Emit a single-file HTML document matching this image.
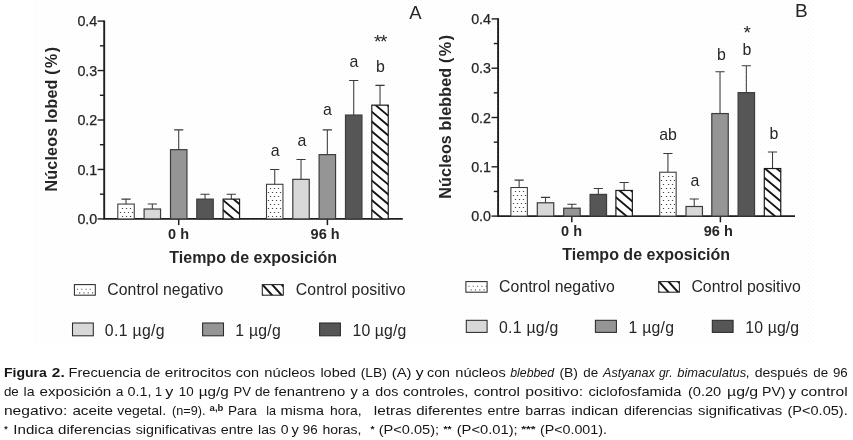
<!DOCTYPE html>
<html><head><meta charset="utf-8"><title>Figura 2</title>
<style>
html,body{margin:0;padding:0;background:#fff;}
body{width:853px;height:440px;position:relative;overflow:hidden;font-family:"Liberation Sans",sans-serif;}
svg{position:absolute;left:0;top:0;will-change:transform;}
svg text{font-family:"Liberation Sans",sans-serif;}
</style></head><body>
<svg width="853" height="440" viewBox="0 0 853 440">
<defs>
<pattern id="bgd" width="4" height="4" patternUnits="userSpaceOnUse"><rect x="0" y="0" width="1" height="1" fill="#f5f5f8"/><rect x="2" y="2" width="1" height="1" fill="#f5f5f8"/></pattern>
<pattern id="dots" width="4.1" height="8" patternUnits="userSpaceOnUse" x="0.4" y="0.6">
<rect x="1.5" y="1.4" width="1" height="1" fill="#555"/><rect x="3.55" y="5.4" width="1" height="1" fill="#555"/><rect x="-0.55" y="5.4" width="1" height="1" fill="#555"/>
</pattern>
<pattern id="dotsl" width="2.7" height="3.1" patternUnits="userSpaceOnUse" x="0.7" y="0.3">
<rect x="0.6" y="0.6" width="0.8" height="0.8" fill="#888"/>
</pattern>
<pattern id="hatch" width="12.75" height="10.2" patternUnits="userSpaceOnUse" x="0" y="3">
<path d="M-12.75 -10.2 L25.5 20.4 M0 -10.2 L25.5 10.2 M-12.75 0 L12.75 20.4" stroke="#222" stroke-width="1.4"/>
</pattern>
<pattern id="hatchl" width="7.4" height="10.4" patternUnits="userSpaceOnUse" x="0" y="0">
<path d="M-7.4 -7.4 L14.8 14.8 M0 -7.4 L14.8 7.4 M-7.4 0 L7.4 14.8" stroke="#222" stroke-width="1.3"/>
</pattern>
</defs>
<rect x="33" y="0" width="780" height="344" fill="url(#bgd)"/>
<path d="M104.2 20.399999999999995 V218.9 H402.8" fill="none" stroke="#1e1e1e" stroke-width="1.9"/>
<path d="M97.60000000000001 218.9 H104.2" stroke="#1e1e1e" stroke-width="1.4"/>
<text x="97.3" y="224.0" font-size="14.3" text-anchor="end" fill="#262626" stroke="#262626" stroke-width="0.25">0.0</text>
<path d="M99.9 194.18 H104.2" stroke="#1e1e1e" stroke-width="1.4"/>
<path d="M97.60000000000001 169.45 H104.2" stroke="#1e1e1e" stroke-width="1.4"/>
<text x="97.3" y="174.55" font-size="14.3" text-anchor="end" fill="#262626" stroke="#262626" stroke-width="0.25">0.1</text>
<path d="M99.9 144.72 H104.2" stroke="#1e1e1e" stroke-width="1.4"/>
<path d="M97.60000000000001 120.0 H104.2" stroke="#1e1e1e" stroke-width="1.4"/>
<text x="97.3" y="125.1" font-size="14.3" text-anchor="end" fill="#262626" stroke="#262626" stroke-width="0.25">0.2</text>
<path d="M99.9 95.28 H104.2" stroke="#1e1e1e" stroke-width="1.4"/>
<path d="M97.60000000000001 70.55 H104.2" stroke="#1e1e1e" stroke-width="1.4"/>
<text x="97.3" y="75.65" font-size="14.3" text-anchor="end" fill="#262626" stroke="#262626" stroke-width="0.25">0.3</text>
<path d="M99.9 45.82 H104.2" stroke="#1e1e1e" stroke-width="1.4"/>
<path d="M97.60000000000001 21.1 H104.2" stroke="#1e1e1e" stroke-width="1.4"/>
<text x="97.3" y="26.2" font-size="14.3" text-anchor="end" fill="#262626" stroke="#262626" stroke-width="0.25">0.4</text>
<path d="M178.7 218.9 V225.1" stroke="#1e1e1e" stroke-width="1.5"/>
<path d="M327.4 218.9 V225.1" stroke="#1e1e1e" stroke-width="1.5"/>
<path d="M126.02 204.06 V199.12 M121.42 199.12 H130.62" stroke="#3a3a3a" stroke-width="1.05" fill="none"/>
<rect x="117.8" y="204.06" width="16.45" height="14.84" fill="#fff"/>
<rect x="117.8" y="204.06" width="16.45" height="14.84" fill="#fff" stroke="#383838" stroke-width="1.05"/>
<path d="M121.9 207.9h1.2v1.2h-1.2zM125.9 207.9h1.2v1.2h-1.2zM129.9 207.9h1.2v1.2h-1.2zM119.9 211.9h1.2v1.2h-1.2zM123.9 211.9h1.2v1.2h-1.2zM127.9 211.9h1.2v1.2h-1.2zM131.9 211.9h1.2v1.2h-1.2zM121.9 215.9h1.2v1.2h-1.2zM125.9 215.9h1.2v1.2h-1.2zM129.9 215.9h1.2v1.2h-1.2z" fill="#444"/>
<path d="M152.32 209.01 V204.06 M147.72 204.06 H156.92" stroke="#3a3a3a" stroke-width="1.05" fill="none"/>
<rect x="144.1" y="209.01" width="16.45" height="9.89" fill="#d8d8d8" stroke="#3c3c3c" stroke-width="1.2"/>
<path d="M178.72 149.67 V129.89 M174.12 129.89 H183.32" stroke="#3a3a3a" stroke-width="1.05" fill="none"/>
<rect x="170.5" y="149.67" width="16.45" height="69.23" fill="#959595" stroke="#3c3c3c" stroke-width="1.2"/>
<path d="M205.03 199.12 V194.18 M200.43 194.18 H209.63" stroke="#3a3a3a" stroke-width="1.05" fill="none"/>
<rect x="196.8" y="199.12" width="16.45" height="19.78" fill="#565656" stroke="#3c3c3c" stroke-width="1.2"/>
<path d="M231.32 199.12 V194.18 M226.72 194.18 H235.92" stroke="#3a3a3a" stroke-width="1.05" fill="none"/>
<rect x="223.1" y="199.12" width="16.45" height="19.78" fill="#fff"/>
<clipPath id="c1"><rect x="223.1" y="199.12" width="16.45" height="19.78"/></clipPath>
<path d="M222.1 209.16 L240.54999999999998 224.66 M222.1 199.34 L240.54999999999998 214.84 M222.1 189.52 L240.54999999999998 205.02 M222.1 218.98 L240.54999999999998 234.48 " stroke="#161616" stroke-width="1.9" clip-path="url(#c1)" fill="none"/>
<rect x="223.1" y="199.12" width="16.45" height="19.78" fill="none" stroke="#1c1c1c" stroke-width="1.2"/>
<path d="M274.73 184.28 V169.45 M270.13 169.45 H279.33000000000004" stroke="#3a3a3a" stroke-width="1.05" fill="none"/>
<rect x="266.5" y="184.28" width="16.45" height="34.62" fill="#fff"/>
<rect x="266.5" y="184.28" width="16.45" height="34.62" fill="#fff" stroke="#383838" stroke-width="1.05"/>
<path d="M269.9 187.9h1.2v1.2h-1.2zM273.9 187.9h1.2v1.2h-1.2zM277.9 187.9h1.2v1.2h-1.2zM267.9 191.9h1.2v1.2h-1.2zM271.9 191.9h1.2v1.2h-1.2zM275.9 191.9h1.2v1.2h-1.2zM279.9 191.9h1.2v1.2h-1.2zM269.9 195.9h1.2v1.2h-1.2zM273.9 195.9h1.2v1.2h-1.2zM277.9 195.9h1.2v1.2h-1.2zM267.9 199.9h1.2v1.2h-1.2zM271.9 199.9h1.2v1.2h-1.2zM275.9 199.9h1.2v1.2h-1.2zM279.9 199.9h1.2v1.2h-1.2zM269.9 203.9h1.2v1.2h-1.2zM273.9 203.9h1.2v1.2h-1.2zM277.9 203.9h1.2v1.2h-1.2zM267.9 207.9h1.2v1.2h-1.2zM271.9 207.9h1.2v1.2h-1.2zM275.9 207.9h1.2v1.2h-1.2zM279.9 207.9h1.2v1.2h-1.2zM269.9 211.9h1.2v1.2h-1.2zM273.9 211.9h1.2v1.2h-1.2zM277.9 211.9h1.2v1.2h-1.2zM267.9 215.9h1.2v1.2h-1.2zM271.9 215.9h1.2v1.2h-1.2zM275.9 215.9h1.2v1.2h-1.2zM279.9 215.9h1.2v1.2h-1.2z" fill="#444"/>
<path d="M301.03 179.34 V159.56 M296.42999999999995 159.56 H305.63" stroke="#3a3a3a" stroke-width="1.05" fill="none"/>
<rect x="292.8" y="179.34" width="16.45" height="39.56" fill="#d8d8d8" stroke="#3c3c3c" stroke-width="1.2"/>
<path d="M327.33 154.62 V129.89 M322.72999999999996 129.89 H331.93" stroke="#3a3a3a" stroke-width="1.05" fill="none"/>
<rect x="319.1" y="154.62" width="16.45" height="64.28" fill="#959595" stroke="#3c3c3c" stroke-width="1.2"/>
<path d="M353.73 115.05 V80.44 M349.13 80.44 H358.33000000000004" stroke="#3a3a3a" stroke-width="1.05" fill="none"/>
<rect x="345.5" y="115.05" width="16.45" height="103.85" fill="#565656" stroke="#3c3c3c" stroke-width="1.2"/>
<path d="M380.03 105.16 V85.38 M375.42999999999995 85.38 H384.63" stroke="#3a3a3a" stroke-width="1.05" fill="none"/>
<rect x="371.8" y="105.16" width="16.45" height="113.74" fill="#fff"/>
<clipPath id="c2"><rect x="371.8" y="105.16" width="16.45" height="113.74"/></clipPath>
<path d="M370.8 209.16 L389.25 224.66 M370.8 199.34 L389.25 214.84 M370.8 189.52 L389.25 205.02 M370.8 179.70 L389.25 195.20 M370.8 169.88 L389.25 185.38 M370.8 160.06 L389.25 175.56 M370.8 150.24 L389.25 165.74 M370.8 140.42 L389.25 155.92 M370.8 130.60 L389.25 146.10 M370.8 120.78 L389.25 136.28 M370.8 110.96 L389.25 126.46 M370.8 101.14 L389.25 116.64 M370.8 91.32 L389.25 106.82 M370.8 218.98 L389.25 234.48 " stroke="#161616" stroke-width="1.9" clip-path="url(#c2)" fill="none"/>
<rect x="371.8" y="105.16" width="16.45" height="113.74" fill="none" stroke="#1c1c1c" stroke-width="1.2"/>
<rect x="74.4" y="284.6" width="20.9" height="10.6" fill="#fff"/>
<path d="M76.90 288.70h1.1v1.1h-1.1zM81.20 288.70h1.1v1.1h-1.1zM79.10 292.30h1.1v1.1h-1.1zM85.50 288.70h1.1v1.1h-1.1zM83.40 292.30h1.1v1.1h-1.1zM89.80 288.70h1.1v1.1h-1.1zM87.70 292.30h1.1v1.1h-1.1zM92.00 292.30h1.1v1.1h-1.1z" fill="#555"/>
<rect x="74.4" y="284.6" width="20.9" height="10.6" fill="none" stroke="#2a2a2a" stroke-width="1.05"/>
<rect x="262.3" y="284.6" width="21" height="10.6" fill="#fff"/>
<clipPath id="c3"><rect x="262.3" y="284.6" width="21" height="10.6"/></clipPath>
<path d="M252.00 283.60 L263.34 296.20 M261.60 283.60 L272.94 296.20 M271.20 283.60 L282.54 296.20 M280.80 283.60 L292.14 296.20 M290.40 283.60 L301.74 296.20 " stroke="#161616" stroke-width="2.0" clip-path="url(#c3)" fill="none"/>
<rect x="262.3" y="284.6" width="21" height="10.6" fill="none" stroke="#2a2a2a" stroke-width="1.1"/>
<rect x="72.5" y="323" width="20.8" height="12.8" fill="#d8d8d8" stroke="#2a2a2a" stroke-width="1.05"/>
<rect x="202.6" y="323" width="20.9" height="12.8" fill="#959595" stroke="#2a2a2a" stroke-width="1.05"/>
<rect x="319.6" y="323" width="20.8" height="12.8" fill="#565656" stroke="#2a2a2a" stroke-width="1.05"/>
<text x="275.1" y="155.9" font-size="15.9" text-anchor="middle" fill="#262626" >a</text>
<text x="301.8" y="145.8" font-size="15.9" text-anchor="middle" fill="#262626" >a</text>
<text x="327.5" y="115.3" font-size="15.9" text-anchor="middle" fill="#262626" >a</text>
<text x="353.8" y="66.5" font-size="15.9" text-anchor="middle" fill="#262626" >a</text>
<text x="380.4" y="72.4" font-size="15.9" text-anchor="middle" fill="#262626" >b</text>
<text x="373.9" y="48.1" font-size="19" textLength="13.6" lengthAdjust="spacing" fill="#262626" >**</text>
<text x="178.6" y="238.9" font-size="14.5" font-weight="bold" text-anchor="middle" fill="#262626" >0 h</text>
<text x="325.1" y="238.9" font-size="14.5" font-weight="bold" text-anchor="middle" fill="#262626" >96 h</text>
<text x="253.2" y="262.5" font-size="16" font-weight="bold" text-anchor="middle" fill="#262626" >Tiempo de exposición</text>
<text x="409.3" y="19.2" font-size="18.5" fill="#262626" >A</text>
<text transform="translate(56.6 191.4) rotate(-90)" font-size="16" font-weight="bold" letter-spacing="0.2" fill="#262626">Núcleos lobed <tspan letter-spacing="1.5">(%)</tspan></text>
<text x="107.2" y="295.3" font-size="15.8" textLength="116" lengthAdjust="spacing" fill="#262626" >Control negativo</text>
<text x="295.8" y="295.3" font-size="15.8" textLength="109.8" lengthAdjust="spacing" fill="#262626" >Control positivo</text>
<text x="104.8" y="335.9" font-size="15.8" textLength="59.8" lengthAdjust="spacing" fill="#262626" >0.1 µg/g</text>
<text x="235.2" y="335.9" font-size="15.8" textLength="45.6" lengthAdjust="spacing" fill="#262626" >1 µg/g</text>
<text x="352.6" y="335.9" font-size="15.8" textLength="53.6" lengthAdjust="spacing" fill="#262626" >10 µg/g</text>
<path d="M498.1 18.200000000000006 V216.1 H795" fill="none" stroke="#1e1e1e" stroke-width="1.9"/>
<path d="M491.5 216.1 H498.1" stroke="#1e1e1e" stroke-width="1.4"/>
<text x="491" y="221.2" font-size="14.3" text-anchor="end" fill="#262626" stroke="#262626" stroke-width="0.25">0.0</text>
<path d="M493.8 191.45 H498.1" stroke="#1e1e1e" stroke-width="1.4"/>
<path d="M491.5 166.8 H498.1" stroke="#1e1e1e" stroke-width="1.4"/>
<text x="491" y="171.9" font-size="14.3" text-anchor="end" fill="#262626" stroke="#262626" stroke-width="0.25">0.1</text>
<path d="M493.8 142.15 H498.1" stroke="#1e1e1e" stroke-width="1.4"/>
<path d="M491.5 117.5 H498.1" stroke="#1e1e1e" stroke-width="1.4"/>
<text x="491" y="122.6" font-size="14.3" text-anchor="end" fill="#262626" stroke="#262626" stroke-width="0.25">0.2</text>
<path d="M493.8 92.85 H498.1" stroke="#1e1e1e" stroke-width="1.4"/>
<path d="M491.5 68.2 H498.1" stroke="#1e1e1e" stroke-width="1.4"/>
<text x="491" y="73.3" font-size="14.3" text-anchor="end" fill="#262626" stroke="#262626" stroke-width="0.25">0.3</text>
<path d="M493.8 43.55 H498.1" stroke="#1e1e1e" stroke-width="1.4"/>
<path d="M491.5 18.9 H498.1" stroke="#1e1e1e" stroke-width="1.4"/>
<text x="491" y="24.0" font-size="14.3" text-anchor="end" fill="#262626" stroke="#262626" stroke-width="0.25">0.4</text>
<path d="M571.8 216.1 V222.29999999999998" stroke="#1e1e1e" stroke-width="1.5"/>
<path d="M720.4 216.1 V222.29999999999998" stroke="#1e1e1e" stroke-width="1.5"/>
<path d="M519.12 187.51 V180.11 M514.52 180.11 H523.72" stroke="#3a3a3a" stroke-width="1.05" fill="none"/>
<rect x="510.9" y="187.51" width="16.45" height="28.59" fill="#fff"/>
<rect x="510.9" y="187.51" width="16.45" height="28.59" fill="#fff" stroke="#383838" stroke-width="1.05"/>
<path d="M514.9 190.9h1.2v1.2h-1.2zM518.9 190.9h1.2v1.2h-1.2zM522.9 190.9h1.2v1.2h-1.2zM512.9 194.9h1.2v1.2h-1.2zM516.9 194.9h1.2v1.2h-1.2zM520.9 194.9h1.2v1.2h-1.2zM524.9 194.9h1.2v1.2h-1.2zM514.9 198.9h1.2v1.2h-1.2zM518.9 198.9h1.2v1.2h-1.2zM522.9 198.9h1.2v1.2h-1.2zM512.9 202.9h1.2v1.2h-1.2zM516.9 202.9h1.2v1.2h-1.2zM520.9 202.9h1.2v1.2h-1.2zM524.9 202.9h1.2v1.2h-1.2zM514.9 206.9h1.2v1.2h-1.2zM518.9 206.9h1.2v1.2h-1.2zM522.9 206.9h1.2v1.2h-1.2zM512.9 210.9h1.2v1.2h-1.2zM516.9 210.9h1.2v1.2h-1.2zM520.9 210.9h1.2v1.2h-1.2zM524.9 210.9h1.2v1.2h-1.2z" fill="#444"/>
<path d="M545.52 202.79 V197.37 M540.92 197.37 H550.12" stroke="#3a3a3a" stroke-width="1.05" fill="none"/>
<rect x="537.3" y="202.79" width="16.45" height="13.31" fill="#d8d8d8" stroke="#3c3c3c" stroke-width="1.2"/>
<path d="M571.93 208.21 V204.27 M567.3299999999999 204.27 H576.53" stroke="#3a3a3a" stroke-width="1.05" fill="none"/>
<rect x="563.7" y="208.21" width="16.45" height="7.89" fill="#959595" stroke="#3c3c3c" stroke-width="1.2"/>
<path d="M598.33 194.41 V188.49 M593.73 188.49 H602.9300000000001" stroke="#3a3a3a" stroke-width="1.05" fill="none"/>
<rect x="590.1" y="194.41" width="16.45" height="21.69" fill="#565656" stroke="#3c3c3c" stroke-width="1.2"/>
<path d="M624.12 190.46 V182.58 M619.52 182.58 H628.72" stroke="#3a3a3a" stroke-width="1.05" fill="none"/>
<rect x="615.9" y="190.46" width="16.45" height="25.64" fill="#fff"/>
<clipPath id="c4"><rect x="615.9" y="190.46" width="16.45" height="25.64"/></clipPath>
<path d="M614.9 206.36 L633.35 221.86 M614.9 196.54 L633.35 212.04 M614.9 186.72 L633.35 202.22 M614.9 176.90 L633.35 192.40 M614.9 216.18 L633.35 231.68 " stroke="#161616" stroke-width="1.9" clip-path="url(#c4)" fill="none"/>
<rect x="615.9" y="190.46" width="16.45" height="25.64" fill="none" stroke="#1c1c1c" stroke-width="1.2"/>
<path d="M667.93 172.22 V153.49 M663.3299999999999 153.49 H672.53" stroke="#3a3a3a" stroke-width="1.05" fill="none"/>
<rect x="659.7" y="172.22" width="16.45" height="43.88" fill="#fff"/>
<rect x="659.7" y="172.22" width="16.45" height="43.88" fill="#fff" stroke="#383838" stroke-width="1.05"/>
<path d="M662.9 175.9h1.2v1.2h-1.2zM667.9 175.9h1.2v1.2h-1.2zM671.9 175.9h1.2v1.2h-1.2zM660.9 179.9h1.2v1.2h-1.2zM665.9 179.9h1.2v1.2h-1.2zM669.9 179.9h1.2v1.2h-1.2zM673.9 179.9h1.2v1.2h-1.2zM662.9 183.9h1.2v1.2h-1.2zM667.9 183.9h1.2v1.2h-1.2zM671.9 183.9h1.2v1.2h-1.2zM660.9 187.9h1.2v1.2h-1.2zM665.9 187.9h1.2v1.2h-1.2zM669.9 187.9h1.2v1.2h-1.2zM673.9 187.9h1.2v1.2h-1.2zM662.9 191.9h1.2v1.2h-1.2zM667.9 191.9h1.2v1.2h-1.2zM671.9 191.9h1.2v1.2h-1.2zM660.9 195.9h1.2v1.2h-1.2zM665.9 195.9h1.2v1.2h-1.2zM669.9 195.9h1.2v1.2h-1.2zM673.9 195.9h1.2v1.2h-1.2zM662.9 199.9h1.2v1.2h-1.2zM667.9 199.9h1.2v1.2h-1.2zM671.9 199.9h1.2v1.2h-1.2zM660.9 203.9h1.2v1.2h-1.2zM665.9 203.9h1.2v1.2h-1.2zM669.9 203.9h1.2v1.2h-1.2zM673.9 203.9h1.2v1.2h-1.2zM662.9 207.9h1.2v1.2h-1.2zM667.9 207.9h1.2v1.2h-1.2zM671.9 207.9h1.2v1.2h-1.2zM660.9 211.9h1.2v1.2h-1.2zM665.9 211.9h1.2v1.2h-1.2zM669.9 211.9h1.2v1.2h-1.2zM673.9 211.9h1.2v1.2h-1.2z" fill="#444"/>
<path d="M694.23 206.49 V199.09 M689.63 199.09 H698.83" stroke="#3a3a3a" stroke-width="1.05" fill="none"/>
<rect x="686.0" y="206.49" width="16.45" height="9.61" fill="#d8d8d8" stroke="#3c3c3c" stroke-width="1.2"/>
<path d="M720.02 113.56 V71.65 M715.42 71.65 H724.62" stroke="#3a3a3a" stroke-width="1.05" fill="none"/>
<rect x="711.8" y="113.56" width="16.45" height="102.54" fill="#959595" stroke="#3c3c3c" stroke-width="1.2"/>
<path d="M746.33 92.65 V65.78 M741.73 65.78 H750.9300000000001" stroke="#3a3a3a" stroke-width="1.05" fill="none"/>
<rect x="738.1" y="92.65" width="16.45" height="123.45" fill="#565656" stroke="#3c3c3c" stroke-width="1.2"/>
<path d="M772.52 168.53 V152.01 M767.92 152.01 H777.12" stroke="#3a3a3a" stroke-width="1.05" fill="none"/>
<rect x="764.3" y="168.53" width="16.45" height="47.57" fill="#fff"/>
<clipPath id="c5"><rect x="764.3" y="168.53" width="16.45" height="47.57"/></clipPath>
<path d="M763.3 206.36 L781.75 221.86 M763.3 196.54 L781.75 212.04 M763.3 186.72 L781.75 202.22 M763.3 176.90 L781.75 192.40 M763.3 167.08 L781.75 182.58 M763.3 157.26 L781.75 172.76 M763.3 216.18 L781.75 231.68 " stroke="#161616" stroke-width="1.9" clip-path="url(#c5)" fill="none"/>
<rect x="764.3" y="168.53" width="16.45" height="47.57" fill="none" stroke="#1c1c1c" stroke-width="1.2"/>
<rect x="465.9" y="281.6" width="21.2" height="10.6" fill="#fff"/>
<path d="M468.40 285.70h1.1v1.1h-1.1zM472.70 285.70h1.1v1.1h-1.1zM470.60 289.30h1.1v1.1h-1.1zM477.00 285.70h1.1v1.1h-1.1zM474.90 289.30h1.1v1.1h-1.1zM481.30 285.70h1.1v1.1h-1.1zM479.20 289.30h1.1v1.1h-1.1zM485.60 285.70h1.1v1.1h-1.1zM483.50 289.30h1.1v1.1h-1.1z" fill="#555"/>
<rect x="465.9" y="281.6" width="21.2" height="10.6" fill="none" stroke="#2a2a2a" stroke-width="1.05"/>
<rect x="658.7" y="281.6" width="20.7" height="10.6" fill="#fff"/>
<clipPath id="c6"><rect x="658.7" y="281.6" width="20.7" height="10.6"/></clipPath>
<path d="M648.40 280.60 L659.74 293.20 M658.00 280.60 L669.34 293.20 M667.60 280.60 L678.94 293.20 M677.20 280.60 L688.54 293.20 M686.80 280.60 L698.14 293.20 " stroke="#161616" stroke-width="2.0" clip-path="url(#c6)" fill="none"/>
<rect x="658.7" y="281.6" width="20.7" height="10.6" fill="none" stroke="#2a2a2a" stroke-width="1.1"/>
<rect x="466.3" y="320.3" width="20.8" height="12.1" fill="#d8d8d8" stroke="#2a2a2a" stroke-width="1.05"/>
<rect x="595.4" y="320.3" width="21" height="12.1" fill="#959595" stroke="#2a2a2a" stroke-width="1.05"/>
<rect x="712.3" y="320.3" width="20.8" height="12.1" fill="#565656" stroke="#2a2a2a" stroke-width="1.05"/>
<text x="668.1" y="140.4" font-size="15.9" text-anchor="middle" fill="#262626" >ab</text>
<text x="695" y="185.7" font-size="15.9" text-anchor="middle" fill="#262626" >a</text>
<text x="721.4" y="59.6" font-size="15.9" text-anchor="middle" fill="#262626" >b</text>
<text x="747" y="54.5" font-size="15.9" text-anchor="middle" fill="#262626" >b</text>
<text x="773.9" y="138.5" font-size="15.9" text-anchor="middle" fill="#262626" >b</text>
<text x="743.6" y="38.9" font-size="19" fill="#262626" >*</text>
<text x="571.6" y="236.0" font-size="14.5" font-weight="bold" text-anchor="middle" fill="#262626" >0 h</text>
<text x="718.3" y="236.0" font-size="14.5" font-weight="bold" text-anchor="middle" fill="#262626" >96 h</text>
<text x="646.2" y="259.6" font-size="16" font-weight="bold" text-anchor="middle" fill="#262626" >Tiempo de exposición</text>
<text x="795" y="17" font-size="19" fill="#262626" >B</text>
<text transform="translate(450.9 198.7) rotate(-90)" font-size="16.1" font-weight="bold" letter-spacing="0.15" fill="#262626">Núcleos blebbed <tspan letter-spacing="1.5">(%)</tspan></text>
<text x="499.1" y="292.1" font-size="15.8" textLength="115.6" lengthAdjust="spacing" fill="#262626" >Control negativo</text>
<text x="691.4" y="292.1" font-size="15.8" textLength="109.4" lengthAdjust="spacing" fill="#262626" >Control positivo</text>
<text x="499" y="332.6" font-size="15.8" textLength="59.4" lengthAdjust="spacing" fill="#262626" >0.1 µg/g</text>
<text x="628.6" y="332.6" font-size="15.8" textLength="45.4" lengthAdjust="spacing" fill="#262626" >1 µg/g</text>
<text x="745.3" y="332.6" font-size="15.8" textLength="53.8" lengthAdjust="spacing" fill="#262626" >10 µg/g</text>
<g><text x="3.9" y="376.9" font-size="12.7" textLength="43.0" lengthAdjust="spacingAndGlyphs" fill="#161616" font-weight="bold">Figura</text>
<text x="51.8" y="376.9" font-size="12.7" textLength="12.9" lengthAdjust="spacingAndGlyphs" fill="#161616" font-weight="bold">2.</text>
<text x="68.5" y="376.9" font-size="12.7" textLength="72.6" lengthAdjust="spacingAndGlyphs" fill="#161616">Frecuencia</text>
<text x="145.3" y="376.9" font-size="12.7" textLength="14.8" lengthAdjust="spacingAndGlyphs" fill="#161616">de</text>
<text x="164.7" y="376.9" font-size="12.7" textLength="66.7" lengthAdjust="spacingAndGlyphs" fill="#161616">eritrocitos</text>
<text x="235.8" y="376.9" font-size="12.7" textLength="23.2" lengthAdjust="spacingAndGlyphs" fill="#161616">con</text>
<text x="264.3" y="376.9" font-size="12.7" textLength="50.8" lengthAdjust="spacingAndGlyphs" fill="#161616">núcleos</text>
<text x="320.4" y="376.9" font-size="12.7" textLength="35.5" lengthAdjust="spacingAndGlyphs" fill="#161616">lobed</text>
<text x="360.7" y="376.9" font-size="12.7" textLength="26.2" lengthAdjust="spacingAndGlyphs" fill="#161616">(LB)</text>
<text x="391.7" y="376.9" font-size="12.7" textLength="19.9" lengthAdjust="spacingAndGlyphs" fill="#161616">(A)</text>
<text x="415.7" y="376.9" font-size="12.7" textLength="7.8" lengthAdjust="spacingAndGlyphs" fill="#161616">y</text>
<text x="427.0" y="376.9" font-size="12.7" textLength="23.0" lengthAdjust="spacingAndGlyphs" fill="#161616">con</text>
<text x="455.3" y="376.9" font-size="12.7" textLength="50.4" lengthAdjust="spacingAndGlyphs" fill="#161616">núcleos</text>
<text x="510.2" y="376.9" font-size="12.7" textLength="43.9" lengthAdjust="spacingAndGlyphs" fill="#161616" font-style="italic">blebbed</text>
<text x="559.4" y="376.9" font-size="12.7" textLength="18.6" lengthAdjust="spacingAndGlyphs" fill="#161616">(B)</text>
<text x="583.3" y="376.9" font-size="12.7" textLength="14.9" lengthAdjust="spacingAndGlyphs" fill="#161616">de</text>
<text x="603.0" y="376.9" font-size="12.7" textLength="51.9" lengthAdjust="spacingAndGlyphs" fill="#161616" font-style="italic">Astyanax</text>
<text x="658.9" y="376.9" font-size="12.7" textLength="13.6" lengthAdjust="spacingAndGlyphs" fill="#161616" font-style="italic">gr.</text>
<text x="677.3" y="376.9" font-size="12.7" textLength="68.8" lengthAdjust="spacingAndGlyphs" fill="#161616" font-style="italic">bimaculatus</text>
<text x="745.7" y="376.9" font-size="12.7" textLength="3.7" lengthAdjust="spacingAndGlyphs" fill="#161616">,</text>
<text x="754.7" y="376.9" font-size="12.7" textLength="53.2" lengthAdjust="spacingAndGlyphs" fill="#161616">después</text>
<text x="813.2" y="376.9" font-size="12.7" textLength="14.9" lengthAdjust="spacingAndGlyphs" fill="#161616">de</text>
<text x="832.9" y="376.9" font-size="12.7" textLength="14.8" lengthAdjust="spacingAndGlyphs" fill="#161616">96</text>
<text x="3.9" y="395.8" font-size="12.7" textLength="14.9" lengthAdjust="spacingAndGlyphs" fill="#161616">de</text>
<text x="23.5" y="395.8" font-size="12.7" textLength="11.0" lengthAdjust="spacingAndGlyphs" fill="#161616">la</text>
<text x="39.5" y="395.8" font-size="12.7" textLength="71.8" lengthAdjust="spacingAndGlyphs" fill="#161616">exposición</text>
<text x="115.7" y="395.8" font-size="12.7" textLength="7.7" lengthAdjust="spacingAndGlyphs" fill="#161616">a</text>
<text x="127.5" y="395.8" font-size="12.7" textLength="24.0" lengthAdjust="spacingAndGlyphs" fill="#161616">0.1,</text>
<text x="155.0" y="395.8" font-size="12.7" fill="#161616">1</text>
<text x="165.3" y="395.8" font-size="12.7" textLength="8.1" lengthAdjust="spacingAndGlyphs" fill="#161616">y</text>
<text x="178.7" y="395.8" font-size="12.7" textLength="14.9" lengthAdjust="spacingAndGlyphs" fill="#161616">10</text>
<text x="198.8" y="395.8" font-size="12.7" textLength="30.0" lengthAdjust="spacingAndGlyphs" fill="#161616">µg/g</text>
<text x="233.5" y="395.8" font-size="12.7" textLength="17.5" lengthAdjust="spacingAndGlyphs" fill="#161616">PV</text>
<text x="254.9" y="395.8" font-size="12.7" textLength="15.2" lengthAdjust="spacingAndGlyphs" fill="#161616">de</text>
<text x="274.3" y="395.8" font-size="12.7" textLength="71.0" lengthAdjust="spacingAndGlyphs" fill="#161616">fenantreno</text>
<text x="350.6" y="395.8" font-size="12.7" textLength="7.3" lengthAdjust="spacingAndGlyphs" fill="#161616">y</text>
<text x="362.0" y="395.8" font-size="12.7" textLength="7.3" lengthAdjust="spacingAndGlyphs" fill="#161616">a</text>
<text x="375.3" y="395.8" font-size="12.7" textLength="23.0" lengthAdjust="spacingAndGlyphs" fill="#161616">dos</text>
<text x="403.1" y="395.8" font-size="12.7" textLength="65.3" lengthAdjust="spacingAndGlyphs" fill="#161616">controles,</text>
<text x="473.7" y="395.8" font-size="12.7" textLength="46.3" lengthAdjust="spacingAndGlyphs" fill="#161616">control</text>
<text x="525.3" y="395.8" font-size="12.7" textLength="57.8" lengthAdjust="spacingAndGlyphs" fill="#161616">positivo:</text>
<text x="588.4" y="395.8" font-size="12.7" textLength="93.0" lengthAdjust="spacingAndGlyphs" fill="#161616">ciclofosfamida</text>
<text x="687.9" y="395.8" font-size="12.7" textLength="33.3" lengthAdjust="spacingAndGlyphs" fill="#161616">(0.20</text>
<text x="727.0" y="395.8" font-size="12.7" textLength="31.2" lengthAdjust="spacingAndGlyphs" fill="#161616">µg/g</text>
<text x="762.0" y="395.8" font-size="12.7" textLength="23.5" lengthAdjust="spacingAndGlyphs" fill="#161616">PV)</text>
<text x="788.7" y="395.8" font-size="12.7" textLength="7.4" lengthAdjust="spacingAndGlyphs" fill="#161616">y</text>
<text x="800.8" y="395.8" font-size="12.7" textLength="46.9" lengthAdjust="spacingAndGlyphs" fill="#161616">control</text>
<text x="3.9" y="414.7" font-size="12.7" textLength="63.4" lengthAdjust="spacingAndGlyphs" fill="#161616">negativo:</text>
<text x="72.4" y="414.7" font-size="12.7" textLength="40.7" lengthAdjust="spacingAndGlyphs" fill="#161616">aceite</text>
<text x="117.2" y="414.7" font-size="12.7" textLength="48.9" lengthAdjust="spacingAndGlyphs" fill="#161616">vegetal.</text>
<text x="172.1" y="414.7" font-size="12.7" textLength="33.4" lengthAdjust="spacingAndGlyphs" fill="#161616">(n=9).</text>
<text x="209.6" y="410.5" font-size="9" textLength="13.8" lengthAdjust="spacingAndGlyphs" fill="#161616" font-weight="bold">a,b</text>
<text x="228.1" y="414.7" font-size="12.7" textLength="28.6" lengthAdjust="spacingAndGlyphs" fill="#161616">Para</text>
<text x="266.3" y="414.7" font-size="12.7" textLength="9.8" lengthAdjust="spacingAndGlyphs" fill="#161616">la</text>
<text x="280.5" y="414.7" font-size="12.7" textLength="43.4" lengthAdjust="spacingAndGlyphs" fill="#161616">misma</text>
<text x="330.0" y="414.7" font-size="12.7" textLength="31.7" lengthAdjust="spacingAndGlyphs" fill="#161616">hora,</text>
<text x="373.8" y="414.7" font-size="12.7" textLength="37.6" lengthAdjust="spacingAndGlyphs" fill="#161616">letras</text>
<text x="416.2" y="414.7" font-size="12.7" textLength="66.0" lengthAdjust="spacingAndGlyphs" fill="#161616">diferentes</text>
<text x="487.5" y="414.7" font-size="12.7" textLength="32.5" lengthAdjust="spacingAndGlyphs" fill="#161616">entre</text>
<text x="525.3" y="414.7" font-size="12.7" textLength="40.1" lengthAdjust="spacingAndGlyphs" fill="#161616">barras</text>
<text x="571.2" y="414.7" font-size="12.7" textLength="47.1" lengthAdjust="spacingAndGlyphs" fill="#161616">indican</text>
<text x="624.1" y="414.7" font-size="12.7" textLength="68.6" lengthAdjust="spacingAndGlyphs" fill="#161616">diferencias</text>
<text x="698.0" y="414.7" font-size="12.7" textLength="84.2" lengthAdjust="spacingAndGlyphs" fill="#161616">significativas</text>
<text x="787.5" y="414.7" font-size="12.7" textLength="60.2" lengthAdjust="spacingAndGlyphs" fill="#161616">(P&lt;0.05).</text>
<text x="4.2" y="432.0" font-size="9.8" textLength="3.4" lengthAdjust="spacingAndGlyphs" fill="#161616" font-weight="bold">*</text>
<text x="13.3" y="433.6" font-size="12.7" textLength="40.3" lengthAdjust="spacingAndGlyphs" fill="#161616">Indica</text>
<text x="58.1" y="433.6" font-size="12.7" textLength="72.9" lengthAdjust="spacingAndGlyphs" fill="#161616">diferencias</text>
<text x="135.7" y="433.6" font-size="12.7" textLength="80.8" lengthAdjust="spacingAndGlyphs" fill="#161616">significativas</text>
<text x="220.8" y="433.6" font-size="12.7" textLength="32.5" lengthAdjust="spacingAndGlyphs" fill="#161616">entre</text>
<text x="258.1" y="433.6" font-size="12.7" textLength="17.9" lengthAdjust="spacingAndGlyphs" fill="#161616">las</text>
<text x="280.8" y="433.6" font-size="12.7" textLength="7.8" lengthAdjust="spacingAndGlyphs" fill="#161616">0</text>
<text x="291.4" y="433.6" font-size="12.7" textLength="7.3" lengthAdjust="spacingAndGlyphs" fill="#161616">y</text>
<text x="302.7" y="433.6" font-size="12.7" textLength="14.9" lengthAdjust="spacingAndGlyphs" fill="#161616">96</text>
<text x="322.4" y="433.6" font-size="12.7" textLength="39.1" lengthAdjust="spacingAndGlyphs" fill="#161616">horas,</text>
<text x="370.4" y="432.0" font-size="9.8" textLength="4.0" lengthAdjust="spacingAndGlyphs" fill="#161616" font-weight="bold">*</text>
<text x="378.7" y="433.6" font-size="12.7" textLength="60.4" lengthAdjust="spacingAndGlyphs" fill="#161616">(P&lt;0.05);</text>
<text x="443.5" y="432.0" font-size="9.8" textLength="8.1" lengthAdjust="spacingAndGlyphs" fill="#161616" font-weight="bold">**</text>
<text x="456.7" y="433.6" font-size="12.7" textLength="61.0" lengthAdjust="spacingAndGlyphs" fill="#161616">(P&lt;0.01);</text>
<text x="521.2" y="432.0" font-size="9.8" textLength="14.4" lengthAdjust="spacingAndGlyphs" fill="#161616" font-weight="bold">***</text>
<text x="539.9" y="433.6" font-size="12.7" textLength="67.1" lengthAdjust="spacingAndGlyphs" fill="#161616">(P&lt;0.001).</text></g>
</svg>
</body></html>
